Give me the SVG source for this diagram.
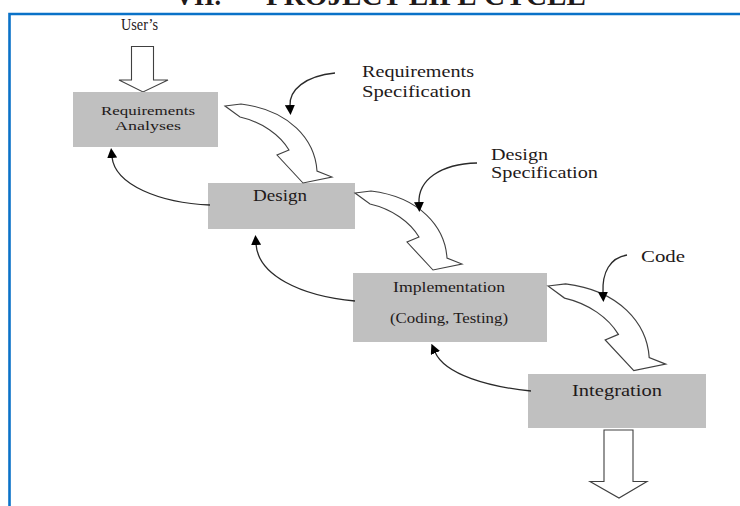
<svg xmlns="http://www.w3.org/2000/svg" xmlns:xlink="http://www.w3.org/1999/xlink" width="740" height="506" viewBox="0 0 740 506">
<style>
.box{fill:#c0c0c0;stroke:none}
.t{font-family:"Liberation Serif","Times New Roman",serif;fill:#1f1a1a}
.blk{fill:#fff;stroke:#404040;stroke-width:1.1;stroke-linejoin:miter}
.thin{fill:none;stroke:#2a2a2a;stroke-width:1.3}
</style>
<defs>
<marker id="ah" markerUnits="userSpaceOnUse" markerWidth="10" markerHeight="10" refX="1" refY="5" orient="auto" viewBox="0 0 10 10">
<path d="M0,0 L10,5 L0,10 Z" fill="#000"/>
</marker>
<path id="carrow" d="M225,106 L241,104 C290,110 315,140 317,171 L332,177 L303,183 L277,155 L289,150 C280,135 262,122 240,117 Z"/>
</defs>
<rect x="0" y="0" width="740" height="506" fill="#fff"/>
<text class="t" x="175" y="5" font-size="28" font-weight="bold" textLength="46" lengthAdjust="spacingAndGlyphs">VII.</text>
<text class="t" x="266" y="5" font-size="28" font-weight="bold" textLength="320" lengthAdjust="spacingAndGlyphs">PROJECT LIFE CYCLE</text>
<path d="M9.5,506 V14 H740" fill="none" stroke="#0a72c8" stroke-width="2.6"/>

<g id="users">
<text class="t" x="121" y="30" font-size="16.5" textLength="37" lengthAdjust="spacingAndGlyphs">User’s</text>
<path class="blk" d="M131.5,46.5 H153.5 V80 H168 L143,92 L119,80 H131.5 Z"/>
</g>

<g id="req">
<rect class="box" x="73" y="92" width="145" height="55"/>
<text class="t" x="101" y="115" font-size="12.5" textLength="94" lengthAdjust="spacingAndGlyphs">Requirements</text>
<text class="t" x="115" y="130" font-size="12.5" textLength="66" lengthAdjust="spacingAndGlyphs">Analyses</text>
</g>

<g id="design">
<rect class="box" x="208" y="183" width="147" height="46"/>
<text class="t" x="253" y="201" font-size="16.5" textLength="54" lengthAdjust="spacingAndGlyphs">Design</text>
</g>

<g id="impl">
<rect class="box" x="353" y="273" width="194" height="69"/>
<text class="t" x="393" y="292" font-size="14.5" textLength="112" lengthAdjust="spacingAndGlyphs">Implementation</text>
<text class="t" x="390" y="323" font-size="14" textLength="118" lengthAdjust="spacingAndGlyphs">(Coding, Testing)</text>
</g>

<g id="integ">
<rect class="box" x="528" y="374" width="178" height="54"/>
<text class="t" x="572" y="396" font-size="17" textLength="90" lengthAdjust="spacingAndGlyphs">Integration</text>
</g>

<g id="out">
<path class="blk" d="M604,430 H633 V481.5 H647 L619,498 L590,481.5 H604 Z"/>
</g>

<g id="labels">
<text class="t" x="362" y="77" font-size="16" textLength="112" lengthAdjust="spacingAndGlyphs">Requirements</text>
<text class="t" x="362" y="97" font-size="16" textLength="109" lengthAdjust="spacingAndGlyphs">Specification</text>
<text class="t" x="491" y="160" font-size="16" textLength="57" lengthAdjust="spacingAndGlyphs">Design</text>
<text class="t" x="491" y="178" font-size="16" textLength="107" lengthAdjust="spacingAndGlyphs">Specification</text>
<text class="t" x="641" y="262" font-size="17" textLength="44" lengthAdjust="spacingAndGlyphs">Code</text>
</g>

<g id="connectors">
<use xlink:href="#carrow" class="blk"/>
<use xlink:href="#carrow" class="blk" transform="translate(130,87)"/>
<use xlink:href="#carrow" class="blk" style="vector-effect:non-scaling-stroke" transform="translate(548,286) scale(1.1) translate(-225,-106)"/>
<path class="thin" marker-end="url(#ah)" d="M335,73 C305,76 289,90 290,106"/>
<path class="thin" marker-end="url(#ah)" d="M477,163 C440,164 418,180 419,203"/>
<path class="thin" marker-end="url(#ah)" d="M627,255 C610,258 602,272 603,293"/>
<path class="thin" marker-end="url(#ah)" d="M210,205 C160,203 115,185 112,157"/>
<path class="thin" marker-end="url(#ah)" d="M355,301 C300,296 258,275 256,244"/>
<path class="thin" marker-end="url(#ah)" d="M531,391 C490,387 445,375 435,352"/>
</g>
</svg>
